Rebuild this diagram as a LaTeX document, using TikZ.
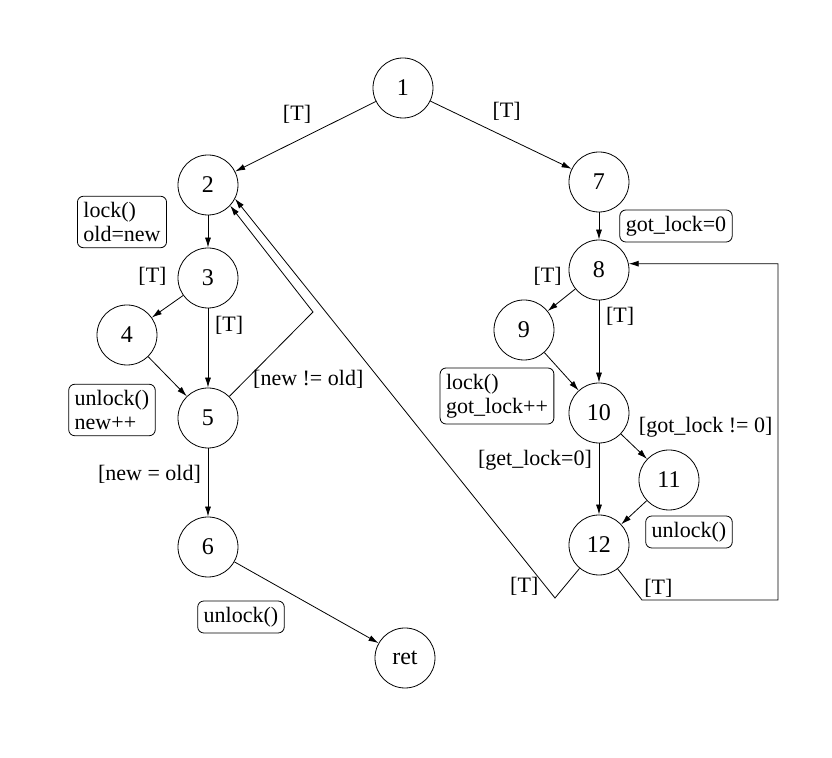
\documentclass[tikz,border=0pt]{standalone}
\usepackage{fontspec}
\setmainfont{Liberation Serif}
\usetikzlibrary{arrows.meta,positioning}
\tikzset{
	-{Latex[length=5pt,width=3pt]},on grid,thin,
	state/.style ={circle, draw, minimum size=30pt, inner sep=0pt, font=\fontsize{12}{14}\selectfont},
	act/.style = {draw, rounded corners=3pt, align=left, inner sep=3pt, font=\fontsize{11}{12}\selectfont},
	el/.style = {font=\fontsize{11}{12}\selectfont}
}

\begin{document}
\begin{tikzpicture}
	\useasboundingbox (-201.5pt,44pt) rectangle (214.5pt,-335pt);
	\node[state] (1) {1};
	\node[state] (2) [below left=48.5pt and 97.5pt of 1] {2};
	\node[state] (3) [below=46.5pt of 2] {3};
	\node[state] (4) [below left=28.5pt and 40.5pt of 3] {4};
	\node[state] (5) [below=70pt of 3] {5};
	\node[state] (6) [below=64.5pt of 5] {6};
	\node[state] (ret) [below right=55.5pt and 98.5pt of 6] {ret};
	\node[state] (7) [below right=47pt and 98pt of 1] {7};
	\node[state] (8) [below=44pt of 7] {8};
	\node[state] (9) [below left=30pt and 37.5pt of 8] {9};
	\node[state] (10) [below=71.5pt of 8] {10};
	\node[state] (11) [below right=33.5pt and 35pt of 10] {11};
	\node[state] (12) [below=66pt of 10] {12};

	\node[act] (a2) [below left=18.5pt and 43pt of 2] {lock()\\old=new};
	\node[act] (a5) [above left=4pt and 48pt of 5] {unlock()\\new++};
	\node[act] (a6) [below right=35pt and 16.5pt of 6] {unlock()};
	\node[act] (a7) [below right=22pt and 38.5pt of 7] {got\_lock=0};
	\node[act] (a10) [above left=8.5pt and 51pt of 10] {lock()\\got\_lock++};
	\node[act] (a11) [below right=26pt and 10pt of 11] {unlock()};

	\coordinate[above right=53pt and 52.5pt of 5] (b5);
	\coordinate[below left=26.5pt and 22pt of 12] (b12);
	\coordinate[below right=27.5pt and 21.5pt of 12] (c12);
	\coordinate[below right=27.5pt and 89.5pt of 12] (r12);

	\path (1) edge node[el,above left,pos=0.41] {[T]} (2);
	\path (1) edge node[el,above right,pos=0.39] {[T]} (7);
	\path (2) edge (3);
	\path (3) edge node[el,above left,pos=0,xshift=-4.75pt,yshift=1.5pt] {[T]} (4);
	\path (3) edge node[el,right,pos=0.21] {[T]} (5);
	\path (4) edge (5);
	\path (5) edge node[el,left,pos=0.38] {[new = old]} (6);
	\path (6) edge (ret);
	\draw (5) -- node[el,right,pos=0.2] {[new != old]} (b5) -- (2.-43);

	\path (7) edge (8);
	\path (8) edge node[el,above left,pos=0,xshift=-3.3pt,yshift=-2pt] {[T]} (9);
	\path (8) edge node[el,right,pos=0.2] {[T]} (10);
	\path (9) edge (10);
	\path (10) edge node[el,above right,pos=0.42] {[got\_lock != 0]} (11);
	\path (10) edge node[el,left,pos=0.24] {[get\_lock=0]} (12);
	\path (11) edge (12);
	\draw (12) -- (b12) -- node[el,left,pos=0.03] {[T]} (2.-27);
	\draw (12) -- (c12) node[el,above right,inner sep=1pt] {[T]} -- (r12) |- (8.12);
\end{tikzpicture}
\end{document}
